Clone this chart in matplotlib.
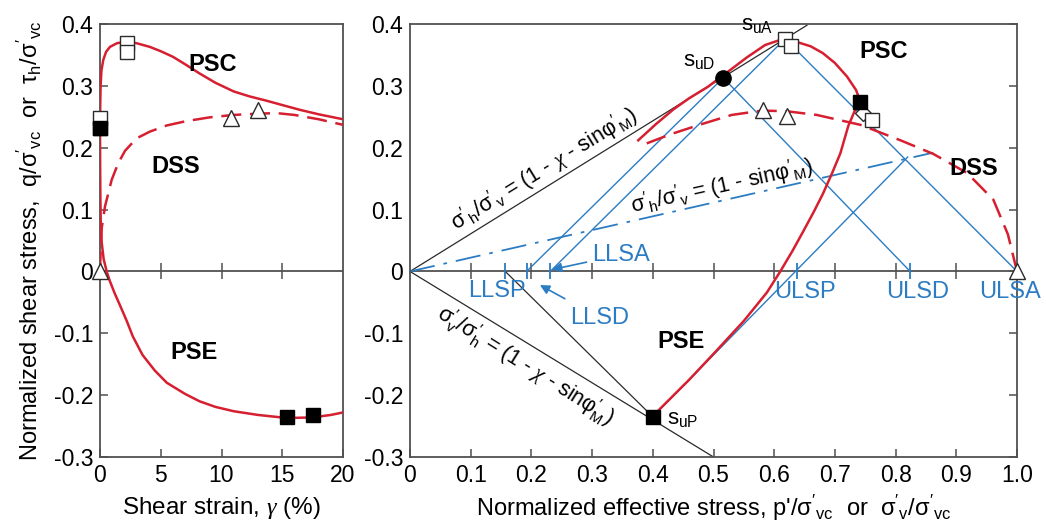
import numpy as np
import matplotlib
matplotlib.use("Agg")
import matplotlib.pyplot as plt

plt.rcParams['font.family'] = ['Liberation Sans', 'DejaVu Sans']
plt.rcParams['mathtext.fontset'] = 'custom'
plt.rcParams['mathtext.rm'] = 'Liberation Sans'
plt.rcParams['mathtext.it'] = 'Liberation Sans:italic'
plt.rcParams['mathtext.bf'] = 'Liberation Sans:bold'
plt.rcParams['mathtext.cal'] = 'Liberation Serif:italic'
plt.rcParams['mathtext.default'] = 'regular'

RED = '#d61f30'
BLUE = '#2b7cc2'
GREY = '#505050'
BLK = '#2a2a2a'

# ---- left panel: shear stress vs shear strain ----
psc_g = [0, 0.02, 0.05, 0.12, 0.27, 0.5, 0.82, 1.4, 2.2, 3.0, 4.1, 5.0, 6.0, 7.0, 8.2,
         9.5, 11, 12.3, 13.7, 15, 16.5, 18, 20]
psc_t = [0.232, 0.27, 0.30, 0.325, 0.342, 0.355, 0.363, 0.369, 0.371, 0.369, 0.363, 0.356,
         0.347, 0.335, 0.32, 0.305, 0.291, 0.283, 0.276, 0.269, 0.261, 0.254, 0.246]
dss_g = [0, 0.05, 0.14, 0.41, 0.96, 1.5, 2.06, 3.0, 4.1, 5.5, 7.1, 9, 11, 13, 14.5, 16, 18, 20]
dss_t = [0, 0.03, 0.07, 0.105, 0.148, 0.175, 0.195, 0.215, 0.226, 0.236, 0.243, 0.249,
         0.253, 0.255, 0.256, 0.253, 0.246, 0.237]
pse_g = [0, 0.01, 0.03, 0.06, 0.12, 0.3, 0.55, 0.8, 1.2, 1.65, 2.2, 2.7, 3.5, 4.5, 5.5, 7,
         8.2, 9.5, 11, 13, 15.4, 17.5, 19, 20]
pse_t = [0.232, 0.18, 0.12, 0.08, 0.05, 0.02, 0.0, -0.015, -0.035, -0.055, -0.08, -0.105,
         -0.135, -0.16, -0.18, -0.198, -0.21, -0.219, -0.226, -0.232, -0.237, -0.236,
         -0.232, -0.228]

L_open_sq_g = [0, 2.2, 2.2]
L_open_sq_t = [0.248, 0.369, 0.355]
L_fill_sq_g = [0, 15.4, 17.5]
L_fill_sq_t = [0.232, -0.236, -0.232]
L_tri_g = [0, 10.8, 13]
L_tri_t = [0, 0.248, 0.261]

# ---- right panel: stress paths ----
psc_p = [0.742, 0.735, 0.72, 0.70, 0.68, 0.66, 0.637, 0.615, 0.585, 0.555, 0.52, 0.49,
         0.46, 0.434, 0.405, 0.376]
psc_q = [0.274, 0.293, 0.315, 0.337, 0.353, 0.364, 0.371, 0.376, 0.366, 0.346, 0.32,
         0.298, 0.28, 0.262, 0.238, 0.212]
pse_p = [0.4, 0.412, 0.46, 0.505, 0.55, 0.588, 0.61, 0.63, 0.648, 0.665, 0.68, 0.695,
         0.709, 0.722, 0.735, 0.742]
pse_q = [-0.235, -0.222, -0.175, -0.128, -0.08, -0.034, 0.0, 0.033, 0.065, 0.096, 0.125,
         0.158, 0.191, 0.235, 0.265, 0.274]
dssr_p = [0.39, 0.43, 0.48, 0.53, 0.58, 0.62, 0.67, 0.742, 0.808, 0.862, 0.918, 0.961,
          0.985, 1.0]
dssr_q = [0.207, 0.222, 0.238, 0.253, 0.26, 0.259, 0.253, 0.237, 0.212, 0.19, 0.159,
          0.116, 0.06, 0.0]

suD = (0.516, 0.313)
suA = (0.618, 0.376)
suP = (0.4, -0.235)
k0 = (0.742, 0.274)

# limit-state points on the zero axis
LLSP, LLSD, LLSA = 0.157, 0.192, 0.231
ULSP, ULSD, ULSA = 0.637, 0.824, 1.0

black_lines = [((0, 0.654), (0, 0.398)),
               ((0, 0.5), (0, -0.3)),
               ((LLSP, suP[0]), (0, suP[1]))]
blue_lines = [((LLSD, suD[0]), (0, suD[1])),
              ((LLSA, suA[0]), (0, suA[1])),
              ((suA[0], ULSA), (suA[1], 0)),
              ((suD[0], ULSD), (suD[1], 0)),
              ((suP[0], 0.82), (suP[1], 0.185))]
k0_line = ((0, 0.862), (0, 0.192))

R_open_sq_p = [0.618, 0.627, 0.761]
R_open_sq_q = [0.376, 0.364, 0.245]
R_fill_sq_p = [k0[0], suP[0]]
R_fill_sq_q = [k0[1], suP[1]]
R_tri_p = [0.582, 0.621, 1.0]
R_tri_q = [0.261, 0.251, 0.0]
R_dia_p = [0.746]
R_dia_q = [0.256]

yticks = [-0.3, -0.2, -0.1, 0, 0.1, 0.2, 0.3, 0.4]
ylabels = ['-0.3', '-0.2', '-0.1', '0', '0.1', '0.2', '0.3', '0.4']
xticksL = [0, 5, 10, 15, 20]
xticksR = [0, 0.1, 0.2, 0.3, 0.4, 0.5, 0.6, 0.7, 0.8, 0.9, 1.0]
xlabelsR = ['0', '0.1', '0.2', '0.3', '0.4', '0.5', '0.6', '0.7', '0.8', '0.9', '1.0']

fig = plt.figure(figsize=(10.46, 5.25), dpi=100)
axL = fig.add_axes([100/1046, 68/525, 243/1046, 433/525])
axR = fig.add_axes([410/1046, 68/525, 607/1046, 433/525])

for ax in (axL, axR):
    for s in ax.spines.values():
        s.set_color(GREY)
        s.set_linewidth(1.3)
    ax.set_ylim(-0.3, 0.4)
    ax.set_yticks(yticks)
    ax.set_yticklabels(ylabels)
    ax.tick_params(direction='in', length=6, width=1.1, color=GREY, labelsize=16.5, pad=5)
    ax.axhline(0, color=GREY, lw=1.3, zorder=1)

sq = dict(marker='s', ms=10, mfc='white', mec=BLK, mew=1.0, ls='none', clip_on=False, zorder=6)
fsq = dict(marker='s', ms=10, mfc='black', mec='black', ls='none', clip_on=False, zorder=6)
tri = dict(marker='^', ms=12, mfc='white', mec=BLK, mew=1.0, ls='none', clip_on=False, zorder=6)

# left
axL.set_xlim(0, 20)
axL.set_xticks(xticksL)
axL.tick_params(axis='y', right=False)
axL.plot(xticksL[1:-1], [0]*3, ls='none', marker='|', ms=11, mew=1.1, color=GREY)
axL.plot(psc_g, psc_t, color=RED, lw=1.8, zorder=3)
axL.plot(pse_g, pse_t, color=RED, lw=1.8, zorder=3)
axL.plot(dss_g, dss_t, color=RED, lw=1.8, dashes=(8, 3.5), zorder=3)
axL.plot(L_fill_sq_g, L_fill_sq_t, **fsq)
axL.plot(L_open_sq_g, L_open_sq_t, **sq)
axL.plot(L_fill_sq_g[:1], L_fill_sq_t[:1], **fsq)
axL.plot(L_tri_g, L_tri_t, **tri)
axL.text(9.3, 0.335, 'PSC', fontsize=17, fontweight='bold', ha='center', va='center')
axL.text(6.2, 0.17, 'DSS', fontsize=17, fontweight='bold', ha='center', va='center')
axL.text(7.7, -0.131, 'PSE', fontsize=17, fontweight='bold', ha='center', va='center')
axL.set_xlabel(r"Shear strain, $\mathcal{\gamma}$ (%)", fontsize=17.5, labelpad=6)
axL.set_ylabel(r"Normalized shear stress,  q/$\sigma'_{vc}$  or  $\tau_h$/$\sigma'_{vc}$",
               fontsize=17, labelpad=6)

# right
axR.set_xlim(0, 1.0)
axR.set_xticks(xticksR)
axR.set_xticklabels(xlabelsR)
axR.tick_params(axis='y', left=False, right=True, labelleft=True)
axR.plot(xticksR[1:-1], [0]*9, ls='none', marker='|', ms=11, mew=1.1, color=GREY)
axR.plot([LLSP, LLSD, LLSA, ULSP, ULSD], [0]*5, ls='none', marker='|', ms=11, mew=1.3,
         color=BLUE, zorder=4)

for xs, ys in black_lines:
    axR.plot(xs, ys, color=BLK, lw=0.9, zorder=2)
for xs, ys in blue_lines:
    axR.plot(xs, ys, color=BLUE, lw=1.0, zorder=2)
axR.plot(*k0_line, color=BLUE, lw=1.3, dashes=(14, 5, 2, 5), zorder=2)

axR.plot(psc_p, psc_q, color=RED, lw=1.8, zorder=3)
axR.plot(pse_p, pse_q, color=RED, lw=1.8, zorder=3)
axR.plot(dssr_p, dssr_q, color=RED, lw=1.8, dashes=(8, 3.5), zorder=3)

axR.plot(R_dia_p, R_dia_q, marker='D', ms=8, mfc='white', mec=BLK, mew=1.0, ls='none', zorder=5)
axR.plot(R_open_sq_p, R_open_sq_q, **sq)
axR.plot(R_fill_sq_p, R_fill_sq_q, **fsq)
axR.plot(R_tri_p, R_tri_q, **tri)
axR.plot([suD[0]], [suD[1]], marker='o', ms=11, color='black', ls='none', zorder=6)

axR.text(0.503, 0.332, r"s$_{uD}$", fontsize=16, ha='right', va='baseline')
axR.text(0.598, 0.39, r"s$_{uA}$", fontsize=16, ha='right', va='baseline')
axR.text(0.423, -0.248, r"s$_{uP}$", fontsize=16, ha='left', va='baseline')

axR.text(0.78, 0.355, 'PSC', fontsize=17, fontweight='bold', ha='center', va='center')
axR.text(0.928, 0.166, 'DSS', fontsize=17, fontweight='bold', ha='center', va='center')
axR.text(0.447, -0.113, 'PSE', fontsize=17, fontweight='bold', ha='center', va='center')

axR.text(0.222, 0.166, r"$\sigma'_h/\sigma'_v$ = (1 - $\mathcal{\chi}$ - sin$\varphi'_M$)",
         fontsize=15.5, rotation=31.5, rotation_mode='anchor', ha='center', va='center')
axR.text(0.513, 0.138, r"$\sigma'_h/\sigma'_v$ = (1 - sin$\varphi'_M$)", fontsize=15.5,
         rotation=12.5, rotation_mode='anchor', ha='center', va='center')
axR.text(0.19, -0.152, r"$\sigma_v'/\sigma_h'$ = (1 - $\mathcal{\chi}$ - sin$\varphi_M'$)",
         fontsize=15.5, rotation=-32, rotation_mode='anchor', ha='center', va='center')

axR.annotate('LLSA', xy=(LLSA + 0.003, 0.003), xytext=(0.30, 0.027), fontsize=17, color=BLUE,
             va='center', ha='left',
             arrowprops=dict(arrowstyle='-|>', color=BLUE, lw=1.2, mutation_scale=14,
                             shrinkA=2, shrinkB=0))
axR.annotate('LLSD', xy=(0.214, -0.022), xytext=(0.264, -0.075), fontsize=17, color=BLUE,
             va='center', ha='left',
             arrowprops=dict(arrowstyle='-|>', color=BLUE, lw=1.2, mutation_scale=14,
                             shrinkA=8, shrinkB=0))
axR.text(0.096, -0.032, 'LLSP', fontsize=17, color=BLUE, ha='left', va='center')
axR.text(0.65, -0.033, 'ULSP', fontsize=17, color=BLUE, ha='center', va='center')
axR.text(0.836, -0.033, 'ULSD', fontsize=17, color=BLUE, ha='center', va='center')
axR.text(0.988, -0.033, 'ULSA', fontsize=17, color=BLUE, ha='center', va='center')

axR.set_xlabel(r"Normalized effective stress, p'/$\sigma'_{vc}$  or  $\sigma'_v$/$\sigma'_{vc}$",
               fontsize=17, labelpad=4)

fig.savefig('out.png', dpi=100)
